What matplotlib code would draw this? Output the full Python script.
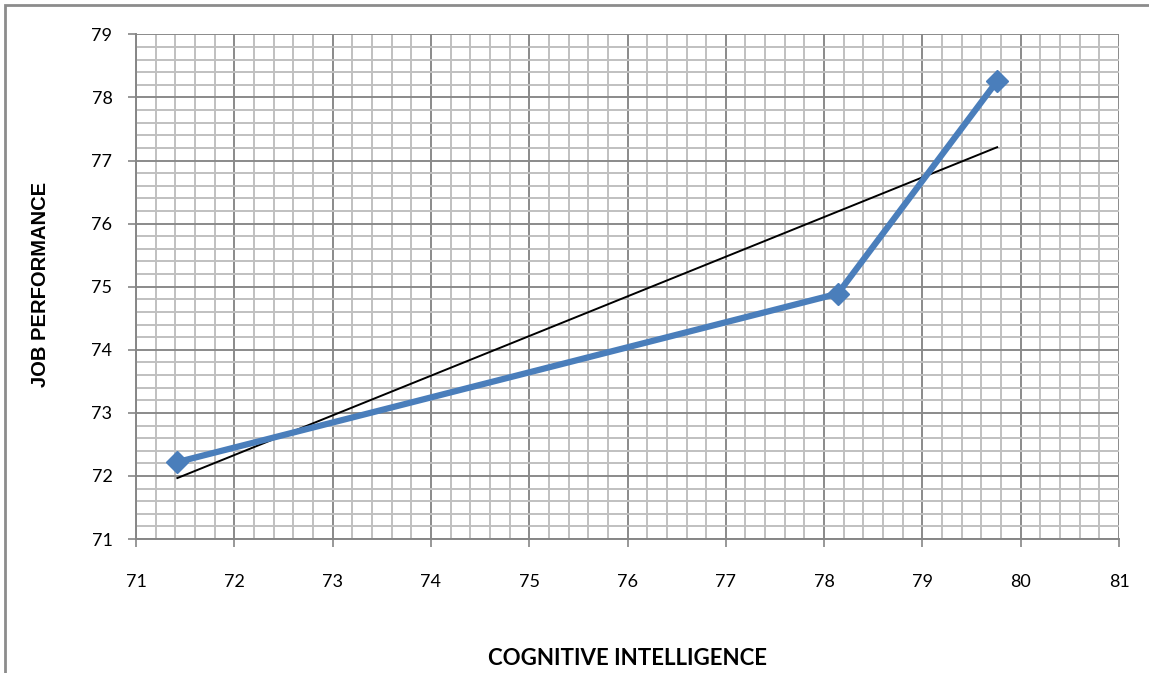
import numpy as np
import matplotlib
matplotlib.use("Agg")
import matplotlib.pyplot as plt
from matplotlib.ticker import MultipleLocator
from matplotlib.patches import Rectangle

# Cognitive intelligence vs job performance
cognitive = [71.42, 78.14, 79.76]
performance = [72.22, 74.89, 78.26]

x_label = "COGNITIVE INTELLIGENCE"
y_label = "JOB PERFORMANCE"

fig = plt.figure(figsize=(11.49, 6.73), dpi=100)
ax = fig.add_axes([0.1184, 0.199, 0.8555, 0.750])

# outer chart frame
fig.patches.append(Rectangle((5 / 1149, -0.1), 1.2, 1 - 5 / 673 + 0.1,
                             transform=fig.transFigure, fill=False,
                             edgecolor="#8c8c8c", linewidth=2.0, zorder=0))

ax.set_xlim(71, 81)
ax.set_ylim(71, 79)
ax.xaxis.set_major_locator(MultipleLocator(1))
ax.yaxis.set_major_locator(MultipleLocator(1))
ax.xaxis.set_minor_locator(MultipleLocator(0.2))
ax.yaxis.set_minor_locator(MultipleLocator(0.2))

ax.grid(which="minor", color="#c0c0c0", linewidth=1.4)
ax.grid(which="major", color="#8a8a8a", linewidth=1.4)
ax.set_axisbelow(True)

for side in ("top", "right"):
    ax.spines[side].set_visible(False)
for side in ("left", "bottom"):
    ax.spines[side].set_color("#868686")
    ax.spines[side].set_linewidth(1.4)

ax.tick_params(which="major", direction="out", length=6, width=1.2,
               color="#868686", labelsize=13)
ax.tick_params(which="minor", length=0)
ax.tick_params(axis="x", pad=19)
ax.tick_params(axis="y", pad=11)
for lbl in ax.get_xticklabels() + ax.get_yticklabels():
    lbl.set_fontfamily("Lato")

# linear trend line
slope, intercept = np.polyfit(cognitive, performance, 1)
xs = np.array([min(cognitive), max(cognitive)])
ax.plot(xs, slope * xs + intercept, color="black", linewidth=1.4, zorder=3)

# data series
ax.plot(cognitive, performance, color="#4a7ebb", linewidth=4.5,
        marker="D", markersize=11, markeredgecolor="#4a7ebb",
        markerfacecolor="#4a7ebb", zorder=4, solid_capstyle="butt")

ax.set_xlabel(x_label, fontsize=16, fontweight="bold", family="Lato",
              va="center", ha="center")
ax.set_ylabel(y_label, fontsize=14.5, fontweight="bold",
              family="Liberation Sans", va="center", ha="center")
ax.xaxis.set_label_coords(0.5, -0.236)
ax.yaxis.set_label_coords(-0.0977, 0.505)

fig.savefig("out.png", dpi=100, facecolor="white")
